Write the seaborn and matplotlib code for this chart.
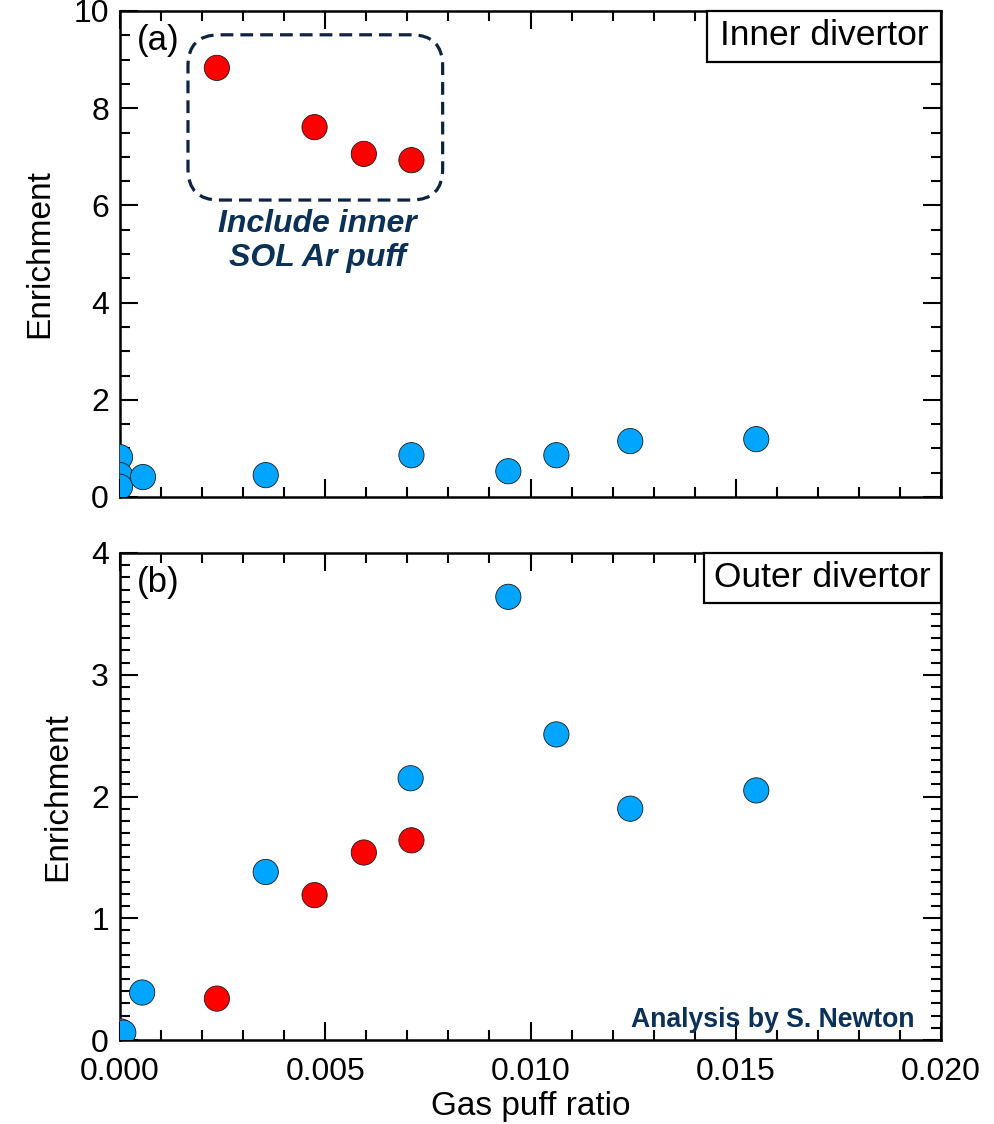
import numpy as np
import pandas as pd
import matplotlib
matplotlib.use("Agg")
import matplotlib.pyplot as plt
import seaborn as sns
from matplotlib.patches import FancyBboxPatch, Rectangle
from matplotlib.ticker import MultipleLocator, FormatStrFormatter

# ---------------- data ----------------
inner_blue_x = [0.0, 0.0, 0.0, 0.00056, 0.00355, 0.0071, 0.00946, 0.01063, 0.01243, 0.0155]
inner_blue_y = [0.82, 0.45, 0.21, 0.41, 0.45, 0.86, 0.53, 0.86, 1.15, 1.19]
inner_red_x = [0.00236, 0.00474, 0.00594, 0.0071]
inner_red_y = [8.83, 7.61, 7.06, 6.93]

outer_blue_x = [0.00002, 0.00008, 0.00054, 0.00355, 0.00708, 0.00946, 0.01063, 0.01243, 0.0155]
outer_blue_y = [0.07, 0.06, 0.39, 1.38, 2.15, 3.64, 2.51, 1.90, 2.05]
outer_red_x = [0.00236, 0.00474, 0.00594, 0.0071]
outer_red_y = [0.34, 1.19, 1.54, 1.64]

groups = ["standard", "inner SOL Ar puff"]
panel_titles = ["Inner divertor", "Outer divertor"]
panel_tags = ["(a)", "(b)"]
x_label = "Gas puff ratio"
y_label = "Enrichment"
annot_text = "Include inner\nSOL Ar puff"
credit_text = "Analysis by S. Newton"

def make_df(bx, by, rx, ry):
    return pd.DataFrame({
        "ratio": list(bx) + list(rx),
        "enrich": list(by) + list(ry),
        "group": [groups[0]] * len(bx) + [groups[1]] * len(rx),
    })

df_inner = make_df(inner_blue_x, inner_blue_y, inner_red_x, inner_red_y)
df_outer = make_df(outer_blue_x, outer_blue_y, outer_red_x, outer_red_y)

# ---------------- style ----------------
sns.set_theme(style="ticks")
plt.rcParams["font.family"] = ["Liberation Sans", "DejaVu Sans"]
plt.rcParams["axes.linewidth"] = 1.8

palette = {groups[0]: "#00a5ff", groups[1]: "#ff0000"}
navy = "#0b3157"
FS = 23

fig = plt.figure(figsize=(9.94, 11.24), dpi=100, facecolor="white")
W, H = 994, 1124
def ax_rect(l, r, t, b):
    return [l / W, 1 - b / H, (r - l) / W, (b - t) / H]

ax1 = fig.add_axes(ax_rect(120, 941, 11, 497))
ax2 = fig.add_axes(ax_rect(120, 941, 553, 1040))

for ax, df in ((ax1, df_inner), (ax2, df_outer)):
    sns.scatterplot(data=df, x="ratio", y="enrich", hue="group", palette=palette,
                    s=330, edgecolor="#1a1a1a", linewidth=0.6, legend=False,
                    ax=ax, zorder=3)
    ax.set_xlim(0, 0.02)
    ax.xaxis.set_major_locator(MultipleLocator(0.005))
    ax.xaxis.set_minor_locator(MultipleLocator(0.001))
    ax.xaxis.set_major_formatter(FormatStrFormatter("%.3f"))
    ax.tick_params(which="both", direction="in", top=True, right=True,
                   width=1.5, color="black", labelsize=FS, labelcolor="black")
    ax.tick_params(which="major", length=13)
    ax.tick_params(which="minor", length=7)
    ax.tick_params(axis="x", which="major", pad=12)
    ax.tick_params(axis="y", which="major", pad=8)
    for sp in ax.spines.values():
        sp.set_color("black")
        sp.set_linewidth(1.8)
    ax.set_ylabel(y_label, fontsize=24, labelpad=13, color="black")
    ax.set_facecolor("white")

ax1.set_ylim(0, 10)
ax1.yaxis.set_major_locator(MultipleLocator(2))
ax1.yaxis.set_minor_locator(MultipleLocator(0.5))
ax1.set_xlabel("")
ax1.tick_params(axis="x", labelbottom=False)

ax2.set_ylim(0, 4)
ax2.yaxis.set_major_locator(MultipleLocator(1))
ax2.yaxis.set_minor_locator(MultipleLocator(0.1))
ax2.set_xlabel(x_label, fontsize=24, labelpad=3, color="black")

# panel tags
ax1.text(0.047, 0.94, panel_tags[0], transform=ax1.transAxes, fontsize=25,
         ha="center", va="center", color="black")
ax2.text(0.047, 0.94, panel_tags[1], transform=ax2.transAxes, fontsize=25,
         ha="center", va="center", color="black")

# title boxes in upper right
for ax, title, (x0, y0, xc, yc) in ((ax1, panel_titles[0], (0.715, 0.895, 0.8575, 0.949)),
                                    (ax2, panel_titles[1], (0.711, 0.897, 0.855, 0.949))):
    ax.add_patch(Rectangle((x0, y0), 1 - x0, 1 - y0, transform=ax.transAxes,
                           facecolor="white", edgecolor="black", lw=1.6, zorder=5,
                           clip_on=False))
    ax.text(xc, yc, title, transform=ax.transAxes, fontsize=25.5, ha="center",
            va="center", color="black", zorder=6)

# dashed rounded box around red points in panel (a)
aspect = (941 - 120) / (497 - 11)
box = FancyBboxPatch((0.0828, 0.611), 0.393 - 0.0828, 0.951 - 0.611,
                     boxstyle="round,pad=0,rounding_size=0.038",
                     mutation_aspect=aspect, transform=ax1.transAxes,
                     facecolor="none", edgecolor="#0d2440", lw=2.3,
                     linestyle=(0, (4, 2.2)), zorder=2)
ax1.add_patch(box)
ax1.text(0.24, 0.527, annot_text, transform=ax1.transAxes, fontsize=23,
         fontweight="bold", fontstyle="italic", color=navy, ha="center",
         va="center", linespacing=1.15)

ax2.text(0.968, 0.041, credit_text, transform=ax2.transAxes, fontsize=19.2,
         fontweight="bold", color=navy, ha="right", va="center")

fig.savefig("out.png", dpi=100, facecolor="white")
